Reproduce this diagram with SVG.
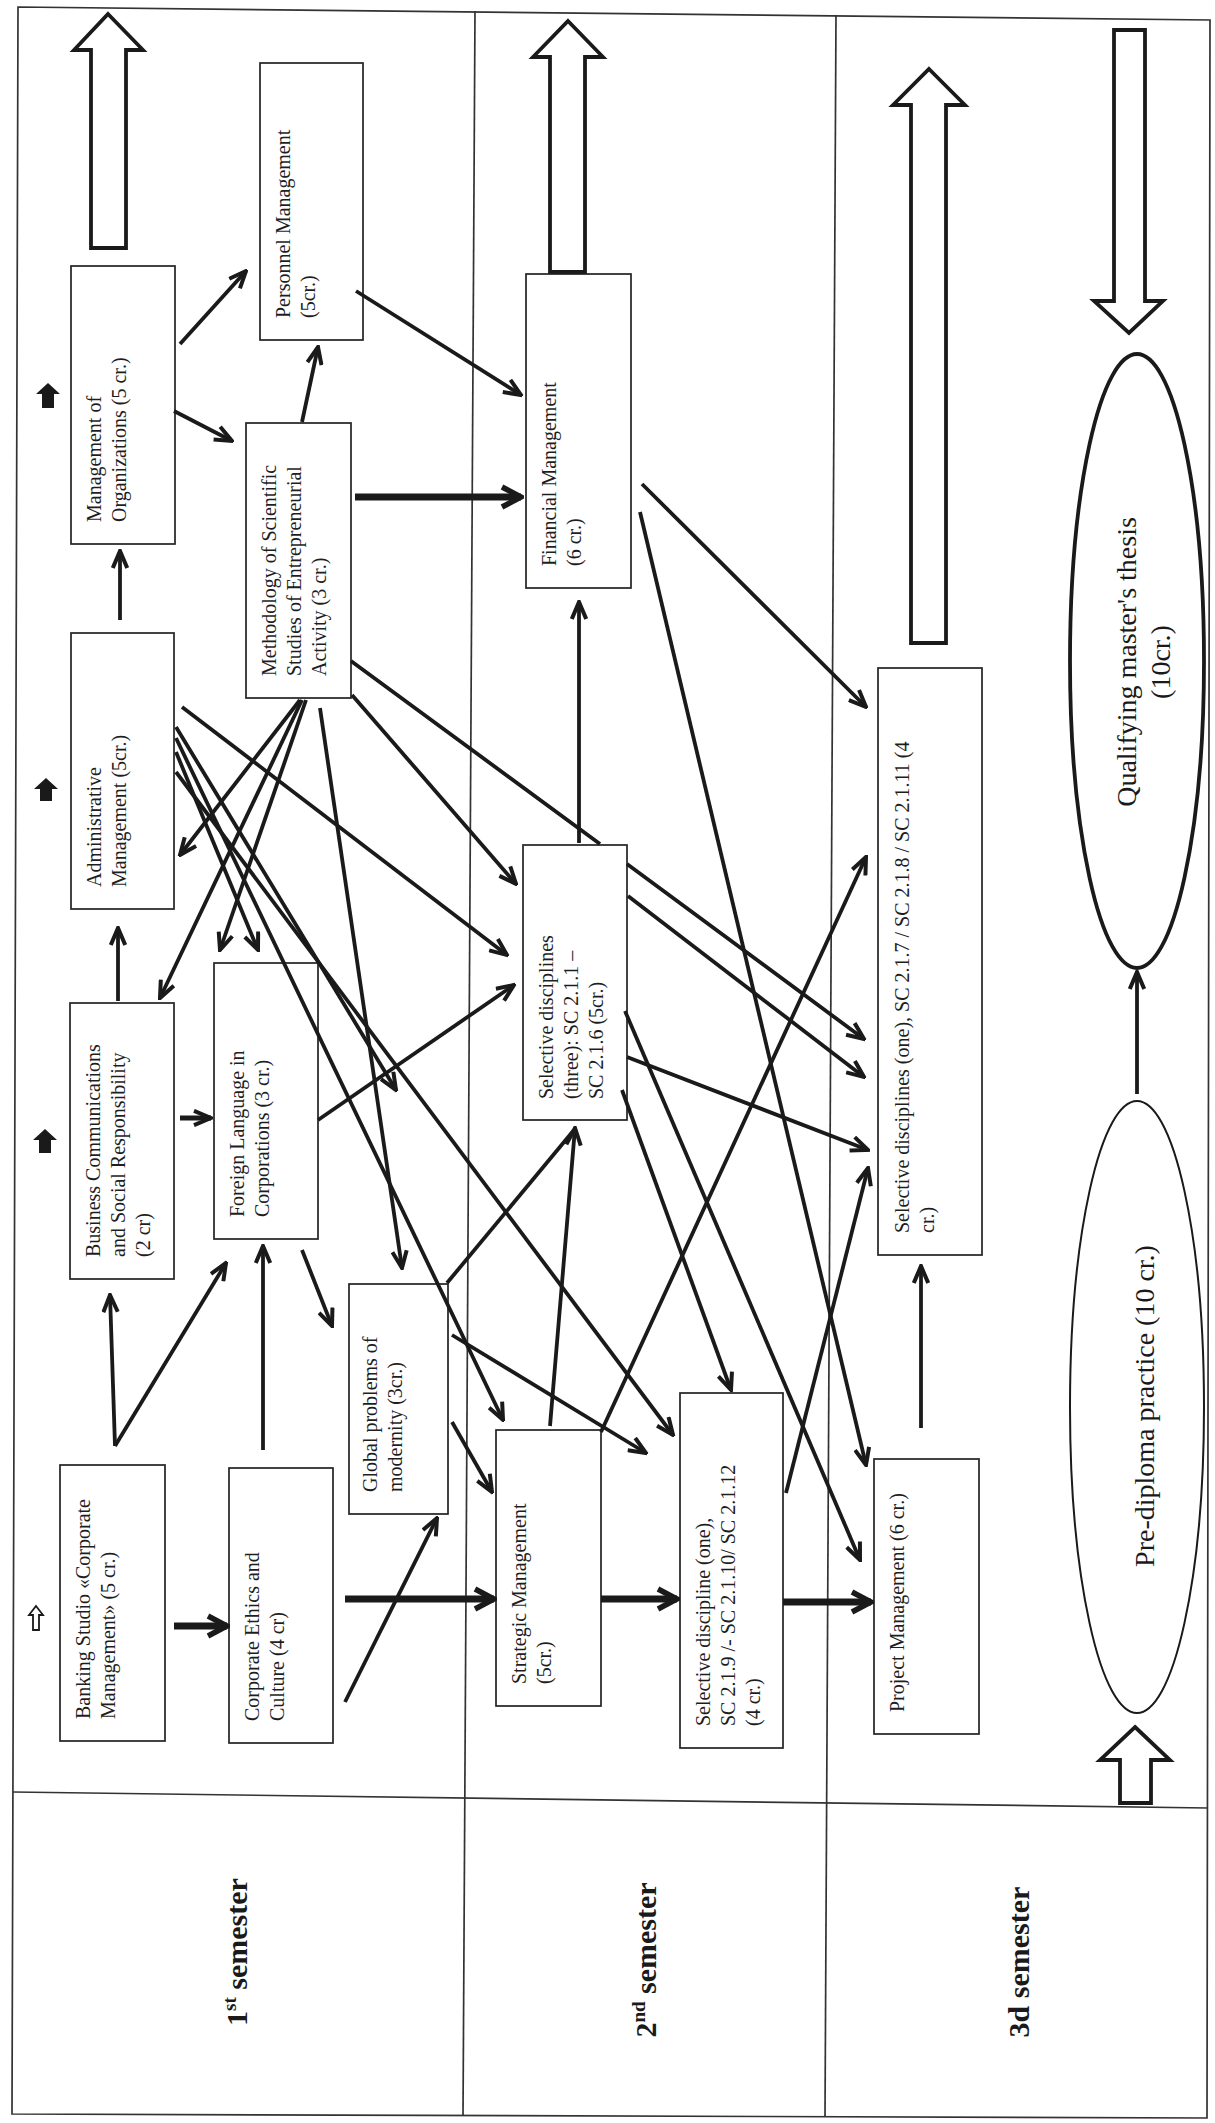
<svg xmlns="http://www.w3.org/2000/svg" width="1215" height="2123" viewBox="0 0 1215 2123">
<style>
.box{fill:#fff;stroke:#222;stroke-width:1.7}
.t{font-family:"Liberation Serif","Times New Roman",serif;font-size:20px;fill:#1e1e1e}
.big{font-family:"Liberation Serif","Times New Roman",serif;font-size:28px;fill:#1a1a1a}
.sem{font-family:"Liberation Serif","Times New Roman",serif;font-size:30px;font-weight:bold;fill:#1a1a1a;text-anchor:middle}
.frame{fill:none;stroke:#333;stroke-width:1.7}
.c{fill:none;stroke:#1a1a1a;stroke-width:3.8;marker-end:url(#ah)}
.cn{fill:none;stroke:#1a1a1a;stroke-width:3.8}
.ck{fill:none;stroke:#1a1a1a;stroke-width:7;marker-end:url(#ahk)}
.hollow{fill:#fff;stroke:#1a1a1a;stroke-width:3.8;stroke-linejoin:miter}
.solid{fill:#1a1a1a;stroke:none}
</style>
<defs>
<marker id="ah" viewBox="0 0 22 18" refX="20" refY="9" markerWidth="22" markerHeight="18" markerUnits="userSpaceOnUse" orient="auto">
<path d="M3,1.8 L20,9 L3,16.2" fill="none" stroke="#1a1a1a" stroke-width="4"/>
</marker>
<marker id="ahk" viewBox="0 0 26 26" refX="23" refY="13" markerWidth="26" markerHeight="26" markerUnits="userSpaceOnUse" orient="auto">
<path d="M4,3 L23,13 L4,23" fill="none" stroke="#1a1a1a" stroke-width="5.5"/>
</marker>
</defs>
<rect x="0" y="0" width="1215" height="2123" fill="#fff"/>

<g id="frame">
<polygon class="frame" points="18,7 1210,20 1207,2118 12,2114"/>
<line class="frame" x1="475" y1="11" x2="463" y2="2116"/>
<line class="frame" x1="836" y1="15" x2="825" y2="2117"/>
<line class="frame" x1="13" y1="1792" x2="1208" y2="1808"/>
</g>

<g id="labels">
<text class="sem" transform="translate(247,1952) rotate(-90)">1<tspan font-size="19" dy="-11">st</tspan><tspan dy="11"> semester</tspan></text>
<text class="sem" transform="translate(656,1960) rotate(-90)">2<tspan font-size="19" dy="-11">nd</tspan><tspan dy="11"> semester</tspan></text>
<text class="sem" transform="translate(1029,1962) rotate(-90)">3d semester</text>
</g>

<g id="big-arrows">
<polygon class="hollow" points="108,14 143,50 126,50 126,248 91,248 91,50 74,50"/>
<polygon class="hollow" points="568,21 603,57 585,57 585,272 550,272 550,57 533,57"/>
<polygon class="hollow" points="929,69 965,105 946,105 946,643 911,643 911,105 893,105"/>
<polygon class="hollow" points="1114,30 1145,30 1145,301 1163,301 1129,333 1094,301 1114,301"/>
<polygon class="hollow" points="1135,1727 1170,1760 1151,1760 1151,1803 1120,1803 1120,1760 1100,1760"/>
<path class="solid" d="M48,383 L60,394 L54,394 L54,408 L42,408 L42,394 L36,394 Z"/>
<path class="solid" d="M46,778 L58,789 L52,789 L52,801 L40,801 L40,789 L34,789 Z"/>
<path class="solid" d="M45,1129 L57,1140 L51,1140 L51,1153 L39,1153 L39,1140 L33,1140 Z"/>
<path d="M36,1606 L43,1615 L39,1615 L39,1630 L33,1630 L33,1615 L29,1615 Z" fill="#fff" stroke="#1a1a1a" stroke-width="1.8"/>
</g>

<g id="n-banking"><rect class="box" x="60" y="1465" width="105" height="276"/>
<text class="t" transform="translate(90,1719) rotate(-90)"><tspan x="0" y="0">Banking Studio «Corporate</tspan><tspan x="0" dy="25">Management» (5 cr.)</tspan></text></g>
<g id="n-ethics"><rect class="box" x="229" y="1468" width="104" height="275"/>
<text class="t" transform="translate(259,1721) rotate(-90)"><tspan x="0" y="0">Corporate Ethics and</tspan><tspan x="0" dy="25">Culture (4 cr)</tspan></text></g>
<g id="n-bizcomm"><rect class="box" x="70" y="1003" width="104" height="276"/>
<text class="t" transform="translate(100,1257) rotate(-90)"><tspan x="0" y="0">Business Communications</tspan><tspan x="0" dy="25">and Social Responsibility</tspan><tspan x="0" dy="25">(2 cr)</tspan></text></g>
<g id="n-forlang"><rect class="box" x="214" y="963" width="104" height="276"/>
<text class="t" transform="translate(244,1217) rotate(-90)"><tspan x="0" y="0">Foreign Language in</tspan><tspan x="0" dy="25">Corporations (3 cr.)</tspan></text></g>
<g id="n-admin"><rect class="box" x="71" y="633" width="103" height="276"/>
<text class="t" transform="translate(101,887) rotate(-90)"><tspan x="0" y="0">Administrative</tspan><tspan x="0" dy="25">Management (5cr.)</tspan></text></g>
<g id="n-mgmtorg"><rect class="box" x="71" y="266" width="104" height="278"/>
<text class="t" transform="translate(101,522) rotate(-90)"><tspan x="0" y="0">Management of</tspan><tspan x="0" dy="25">Organizations (5 cr.)</tspan></text></g>
<g id="n-personnel"><rect class="box" x="260" y="63" width="103" height="277"/>
<text class="t" transform="translate(290,318) rotate(-90)"><tspan x="0" y="0">Personnel Management</tspan><tspan x="0" dy="25">(5cr.)</tspan></text></g>
<g id="n-method"><rect class="box" x="246" y="423" width="105" height="275"/>
<text class="t" transform="translate(276,676) rotate(-90)"><tspan x="0" y="0">Methodology of Scientific</tspan><tspan x="0" dy="25">Studies of Entrepreneurial</tspan><tspan x="0" dy="25">Activity (3 cr.)</tspan></text></g>
<g id="n-global"><rect class="box" x="349" y="1284" width="99" height="230"/>
<text class="t" transform="translate(377,1492) rotate(-90)"><tspan x="0" y="0">Global problems of</tspan><tspan x="0" dy="25">modernity (3cr.)</tspan></text></g>
<g id="n-strategic"><rect class="box" x="496" y="1430" width="105" height="276"/>
<text class="t" transform="translate(526,1684) rotate(-90)"><tspan x="0" y="0">Strategic Management</tspan><tspan x="0" dy="25">(5cr.)</tspan></text></g>
<g id="n-sel3"><rect class="box" x="523" y="845" width="104" height="275"/>
<text class="t" transform="translate(553,1099) rotate(-90)"><tspan x="0" y="0">Selective disciplines</tspan><tspan x="0" dy="25">(three):  SC 2.1.1 –</tspan><tspan x="0" dy="25">SC 2.1.6 (5cr.)</tspan></text></g>
<g id="n-financial"><rect class="box" x="526" y="274" width="105" height="314"/>
<text class="t" transform="translate(556,566) rotate(-90)"><tspan x="0" y="0">Financial Management</tspan><tspan x="0" dy="25">(6 cr.)</tspan></text></g>
<g id="n-sc219"><rect class="box" x="680" y="1393" width="103" height="355"/>
<text class="t" transform="translate(710,1726) rotate(-90)"><tspan x="0" y="0">Selective discipline (one),</tspan><tspan x="0" dy="25">SC 2.1.9 /- SC 2.1.10/ SC 2.1.12</tspan><tspan x="0" dy="25">(4 cr.)</tspan></text></g>
<g id="n-selone"><rect class="box" x="878" y="668" width="104" height="587"/>
<text class="t" transform="translate(909,1233) rotate(-90)"><tspan x="0" y="0">Selective disciplines (one), SC 2.1.7 / SC 2.1.8 / SC 2.1.11 (4</tspan><tspan x="0" dy="25">cr.)</tspan></text></g>
<g id="n-project"><rect class="box" x="874" y="1459" width="105" height="275"/>
<text class="t" transform="translate(904,1712) rotate(-90)"><tspan x="0" y="0">Project Management (6 cr.)</tspan></text></g>
<g id="n-thesis"><ellipse cx="1137" cy="661" rx="67" ry="307" fill="#fff" stroke="#1a1a1a" stroke-width="3.8"/>
<text class="big" text-anchor="middle" transform="translate(1136,662) rotate(-90)"><tspan x="0" y="0">Qualifying master's thesis</tspan><tspan x="0" dy="34">(10cr.)</tspan></text></g>
<g id="n-prediploma"><ellipse cx="1137" cy="1407" rx="67" ry="306" fill="#fff" stroke="#1a1a1a" stroke-width="2"/>
<text class="big" text-anchor="middle" transform="translate(1154,1406) rotate(-90)">Pre-diploma practice (10 cr.)</text></g>

<g id="connectors">
<line class="c" x1="115" y1="1446" x2="110" y2="1295"/>
<line class="c" x1="115" y1="1446" x2="226" y2="1263"/>
<line class="ck" x1="174" y1="1626" x2="227" y2="1626"/>
<line class="c" x1="263" y1="1450" x2="263" y2="1246"/>
<line class="c" x1="345" y1="1702" x2="437" y2="1518"/>
<line class="ck" x1="345" y1="1599" x2="494" y2="1599"/>
<line class="c" x1="302" y1="1250" x2="332" y2="1326"/>
<line class="c" x1="180" y1="1118" x2="211" y2="1118" style="stroke-width:5"/>
<line class="c" x1="118" y1="1001" x2="118" y2="928"/>
<line class="c" x1="120" y1="620" x2="120" y2="551"/>
<line class="c" x1="180" y1="344" x2="246" y2="271"/>
<line class="c" x1="174" y1="411" x2="232" y2="441"/>
<line class="c" x1="302" y1="422" x2="318" y2="347"/>
<line class="c" x1="356" y1="291" x2="521" y2="395"/>
<line class="ck" x1="355" y1="497" x2="521" y2="497"/>
<line class="c" x1="642" y1="484" x2="866" y2="707"/>
<line class="c" x1="640" y1="512" x2="866" y2="1465"/>
<line class="c" x1="579" y1="843" x2="579" y2="602"/>
<line class="c" x1="300" y1="700" x2="180" y2="855"/>
<line class="c" x1="302" y1="700" x2="160" y2="998"/>
<line class="c" x1="306" y1="700" x2="220" y2="950"/>
<line class="c" x1="320" y1="708" x2="402" y2="1268"/>
<line class="c" x1="352" y1="695" x2="516" y2="884"/>
<path class="c" d="M351,661 L600,844 M627,864 L864,1039"/>
<line class="c" x1="182" y1="707" x2="507" y2="955"/>
<line class="c" x1="176" y1="752" x2="258" y2="950"/>
<line class="c" x1="176" y1="727" x2="396" y2="1090"/>
<line class="c" x1="176" y1="738" x2="503" y2="1420"/>
<line class="c" x1="176" y1="772" x2="673" y2="1435"/>
<line class="c" x1="318" y1="1120" x2="514" y2="985"/>
<line class="cn" x1="447" y1="1283" x2="574" y2="1130"/>
<line class="c" x1="550" y1="1426" x2="575" y2="1128"/>
<line class="c" x1="452" y1="1422" x2="492" y2="1492"/>
<line class="c" x1="452" y1="1335" x2="646" y2="1453"/>
<line class="c" x1="628" y1="896" x2="864" y2="1077"/>
<line class="c" x1="627" y1="1057" x2="868" y2="1150"/>
<line class="c" x1="622" y1="1090" x2="731" y2="1390"/>
<line class="c" x1="625" y1="1011" x2="860" y2="1560"/>
<line class="c" x1="601" y1="1432" x2="866" y2="857"/>
<line class="c" x1="786" y1="1493" x2="868" y2="1168"/>
<line class="ck" x1="601" y1="1599" x2="677" y2="1599"/>
<line class="ck" x1="783" y1="1602" x2="871" y2="1602"/>
<line class="c" x1="921" y1="1428" x2="921" y2="1266"/>
<line class="c" x1="1137" y1="1094" x2="1137" y2="972"/>
</g>
</svg>
